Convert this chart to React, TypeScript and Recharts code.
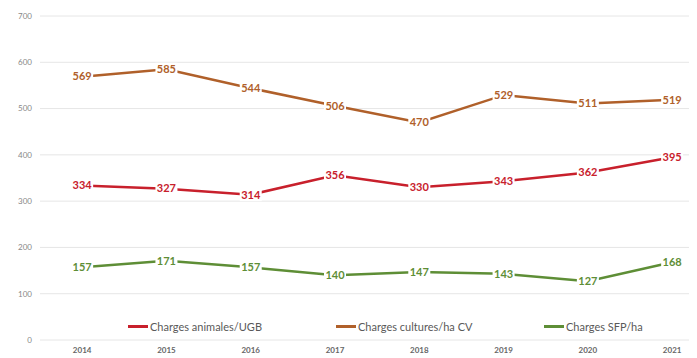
import { CartesianGrid, LabelList, Line, LineChart, XAxis, YAxis } from 'recharts';

const years = [2014, 2015, 2016, 2017, 2018, 2019, 2020, 2021];
const animales = [334, 327, 314, 356, 330, 343, 362, 395];
const cultures = [569, 585, 544, 506, 470, 529, 511, 519];
const sfp = [157, 171, 157, 140, 147, 143, 127, 168];
const yTicks = [0, 100, 200, 300, 400, 500, 600, 700];

const series = [
  { key: 'animales', name: 'Charges animales/UGB', color: '#C8202C' },
  { key: 'cultures', name: 'Charges cultures/ha CV', color: '#B0602A' },
  { key: 'sfp', name: 'Charges SFP/ha', color: '#5E8E36' },
];

const data = years.map((year, i) => ({
  year,
  animales: animales[i],
  cultures: cultures[i],
  sfp: sfp[i],
}));

const FONT = 'Lato, "Open Sans", sans-serif';

const makeLabel = (color: string) => (props: any) => {
  const { x, y, value } = props;
  const w = 22;
  const h = 13;
  return (
    <g>
      <rect x={x - w / 2} y={y - h / 2} width={w} height={h} fill="#fff" />
      <text
        x={x}
        y={y}
        dy="0.35em"
        textAnchor="middle"
        fill={color}
        fontSize={11}
        fontWeight={700}
        fontFamily={FONT}
      >
        {value}
      </text>
    </g>
  );
};

const LegendBox = () => (
  <div
    style={{
      position: 'absolute',
      top: 312,
      left: 120,
      display: 'flex',
      fontFamily: FONT,
      fontSize: 11,
      color: '#595959',
    }}
  >
    {series.map((s) => (
      <div key={s.key} style={{ width: 208, display: 'flex', alignItems: 'center' }}>
        <span style={{ display: 'inline-block', width: 20, height: 3, background: s.color, marginRight: 2 }} />
        {s.name}
      </div>
    ))}
  </div>
);

export default function App() {
  return (
    <div style={{ position: 'relative', width: 681, height: 350, background: '#fff' }}>
      <LineChart width={681} height={350} data={data} margin={{ top: 8, right: 0, bottom: 0, left: 0 }}>
        <CartesianGrid vertical={false} stroke="#e6e6e6" />
        <XAxis
          dataKey="year"
          type="number"
          domain={[2013.5, 2021.2]}
          ticks={years}
          axisLine={false}
          tickLine={false}
          tickSize={0}
          tickMargin={7}
          height={18}
          tick={{ fontSize: 8, fontWeight: 700, fill: '#666', fontFamily: FONT }}
        />
        <YAxis
          domain={[0, 700]}
          ticks={yTicks}
          width={32}
          axisLine={false}
          tickLine={false}
          tickSize={0}
          tickMargin={8}
          tick={{ fontSize: 8, fill: '#888', fontFamily: FONT }}
        />
        {series.map((s) => (
          <Line
            key={s.key}
            dataKey={s.key}
            name={s.name}
            stroke={s.color}
            strokeWidth={2.5}
            dot={false}
            activeDot={false}
            isAnimationActive={false}
          >
            <LabelList dataKey={s.key} content={makeLabel(s.color)} />
          </Line>
        ))}
      </LineChart>
      <LegendBox />
    </div>
  );
}
